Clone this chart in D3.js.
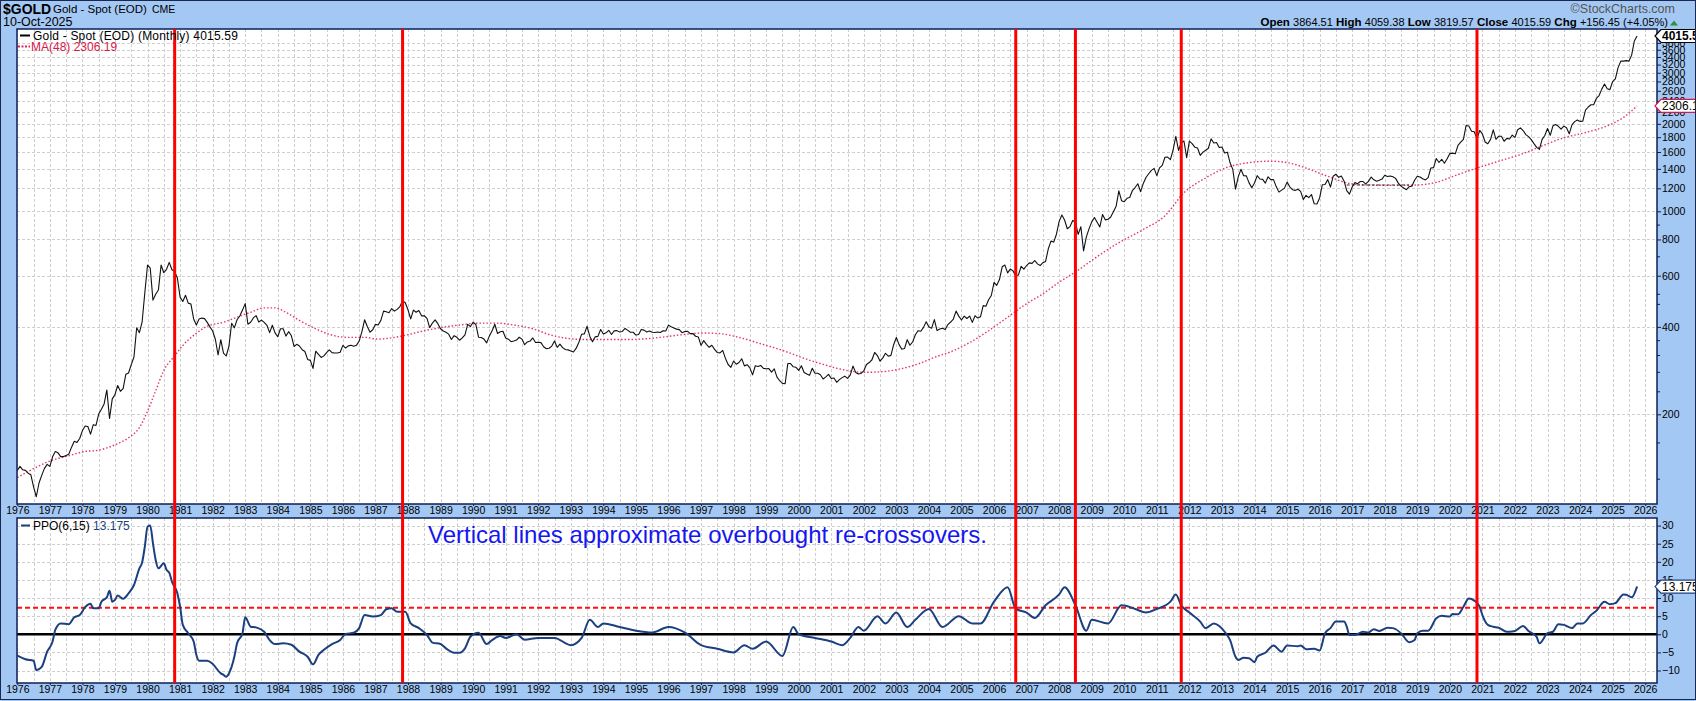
<!DOCTYPE html>
<html>
<head>
<meta charset="utf-8">
<script src="https://cdnjs.cloudflare.com/ajax/libs/d3/7.8.5/d3.min.js"></script>
<style>
body { margin: 0; background: #ffffff; }
svg text { font-family: "Liberation Sans", Arial, sans-serif; }
.grid line { stroke: #cfcfcf; stroke-width: 1; stroke-dasharray: 3,2; }
.axis path, .axis line { stroke: #0d1f55; }
.axis text { fill: #000; font-size: 10.5px; }
</style>
</head>
<body>
<div id="chart"></div>
<script>
// monthly closes, Jan 1976 .. Oct 2025
var goldStart = 1976;
var goldClose = [
  128.2, 132.3, 128.8, 128.2, 125.4, 123.8, 112.5, 104.0, 116.0, 123.2, 130.3, 134.5, // 1976
  132.3, 142.8, 148.9, 147.3, 143.0, 143.0, 144.1, 146.0, 154.1, 161.5, 160.0, 165.0, // 1977
  175.8, 182.3, 181.6, 170.9, 184.2, 183.1, 200.3, 208.1, 217.1, 242.6, 193.4, 226.0, // 1978
  233.7, 251.3, 240.1, 245.3, 274.6, 277.5, 296.5, 315.1, 397.3, 382.0, 415.7, 524.0, // 1979
  653.0, 637.0, 494.5, 518.0, 535.5, 653.5, 614.3, 631.3, 666.8, 629.0, 619.8, 589.5, // 1980
  506.5, 489.0, 513.8, 482.8, 479.3, 426.0, 406.0, 425.5, 428.8, 427.0, 414.5, 400.0, // 1981
  387.0, 362.6, 320.0, 361.3, 325.0, 317.5, 342.9, 411.5, 397.0, 423.3, 436.0, 456.9, // 1982
  481.0, 408.5, 414.8, 429.3, 437.5, 416.0, 422.0, 414.3, 405.0, 382.0, 405.0, 381.5, // 1983
  370.0, 394.0, 394.0, 371.8, 385.0, 373.5, 342.4, 348.3, 343.8, 333.5, 329.0, 309.0, // 1984
  306.7, 287.8, 329.8, 321.4, 314.0, 317.8, 326.3, 333.3, 326.0, 325.1, 325.3, 327.0, // 1985
  345.5, 338.2, 344.0, 345.8, 343.2, 345.5, 357.5, 384.7, 423.2, 401.0, 383.5, 391.0, // 1986
  408.0, 405.9, 421.1, 453.3, 451.0, 447.3, 462.5, 453.4, 459.5, 469.5, 492.5, 484.1, // 1987
  458.0, 426.2, 457.0, 449.0, 455.5, 436.6, 436.8, 427.8, 397.7, 412.4, 422.6, 410.2, // 1988
  394.0, 387.0, 383.2, 377.6, 361.8, 373.0, 368.3, 359.8, 366.5, 375.3, 408.2, 401.0, // 1989
  415.1, 407.7, 368.5, 367.8, 363.1, 352.2, 372.3, 387.8, 408.4, 379.5, 384.9, 386.2, // 1990
  366.0, 362.7, 355.7, 357.8, 360.4, 368.4, 363.0, 347.4, 354.9, 357.5, 366.3, 353.2, // 1991
  354.1, 353.1, 341.7, 336.4, 337.5, 343.4, 357.8, 340.0, 349.0, 339.3, 334.2, 333.3, // 1992
  330.5, 327.6, 337.8, 354.3, 377.5, 378.5, 401.8, 371.6, 355.5, 369.6, 370.9, 391.8, // 1993
  377.9, 381.6, 389.2, 376.5, 387.6, 388.3, 384.0, 385.8, 394.9, 389.1, 383.1, 383.3, // 1994
  374.9, 376.4, 392.0, 389.8, 384.3, 387.1, 383.4, 382.4, 384.0, 382.7, 387.8, 387.0, // 1995
  405.6, 400.7, 396.4, 392.9, 391.3, 382.0, 385.3, 386.5, 379.0, 379.5, 371.3, 369.3, // 1996
  345.5, 358.6, 348.2, 340.2, 345.6, 334.6, 326.4, 325.4, 332.1, 311.4, 296.8, 290.2, // 1997
  304.9, 297.4, 301.5, 310.7, 293.6, 296.3, 288.9, 273.4, 293.9, 292.3, 294.7, 287.8, // 1998
  287.1, 287.3, 279.5, 286.6, 268.6, 261.0, 255.6, 254.8, 299.0, 299.1, 291.4, 290.3, // 1999
  283.3, 293.7, 278.4, 275.1, 272.3, 288.2, 276.8, 277.0, 273.7, 264.5, 269.1, 274.5, // 2000
  265.6, 266.7, 257.7, 263.2, 267.5, 270.6, 265.9, 273.0, 293.1, 278.8, 275.5, 276.5, // 2001
  282.3, 296.9, 301.4, 308.2, 326.6, 318.5, 304.7, 312.8, 324.5, 316.9, 319.1, 347.2, // 2002
  367.5, 347.5, 334.9, 336.8, 361.4, 346.0, 354.8, 375.6, 388.0, 386.3, 398.4, 416.3, // 2003
  399.8, 395.9, 423.7, 388.5, 393.3, 395.8, 391.4, 407.3, 415.7, 425.6, 453.4, 435.6, // 2004
  422.2, 435.5, 427.5, 435.7, 414.5, 437.1, 429.0, 433.3, 473.3, 470.8, 495.7, 513.0, // 2005
  568.8, 556.0, 582.0, 644.0, 653.0, 613.5, 632.5, 623.5, 599.3, 603.8, 646.7, 632.0, // 2006
  650.5, 664.2, 661.8, 677.0, 659.1, 650.5, 665.5, 672.0, 743.0, 789.5, 783.5, 833.8, // 2007
  923.3, 971.5, 933.5, 871.0, 885.8, 930.3, 918.0, 833.0, 884.5, 730.8, 814.5, 869.8, // 2008
  919.5, 952.0, 916.5, 883.3, 975.5, 934.5, 939.0, 955.5, 995.8, 1040.0, 1175.8, 1087.5, // 2009
  1078.5, 1108.3, 1115.5, 1179.3, 1207.5, 1244.0, 1169.0, 1246.0, 1307.0, 1346.8, 1383.5, 1405.5, // 2010
  1327.0, 1411.0, 1439.0, 1535.5, 1536.5, 1505.5, 1628.5, 1813.5, 1620.0, 1722.0, 1746.0, 1531.0, // 2011
  1744.0, 1711.0, 1662.5, 1651.3, 1558.0, 1598.5, 1622.0, 1648.5, 1776.0, 1719.0, 1726.0, 1657.5, // 2012
  1664.8, 1588.5, 1598.3, 1469.0, 1394.5, 1192.0, 1314.5, 1394.8, 1326.5, 1324.0, 1253.0, 1204.5, // 2013
  1251.0, 1326.5, 1291.8, 1288.5, 1250.5, 1315.0, 1285.3, 1285.8, 1216.5, 1164.3, 1182.8, 1199.3, // 2014
  1260.3, 1214.0, 1187.0, 1180.3, 1190.8, 1171.0, 1098.4, 1135.0, 1114.0, 1142.4, 1061.9, 1060.0, // 2015
  1111.8, 1234.9, 1237.0, 1285.7, 1212.1, 1320.8, 1342.0, 1309.3, 1322.5, 1272.0, 1178.1, 1145.9, // 2016
  1212.8, 1255.6, 1245.3, 1266.5, 1266.2, 1242.3, 1267.6, 1311.8, 1283.1, 1270.2, 1280.2, 1291.0, // 2017
  1331.3, 1317.9, 1323.9, 1315.1, 1298.3, 1250.5, 1220.6, 1202.5, 1187.3, 1215.0, 1220.7, 1279.0, // 2018
  1321.0, 1313.3, 1295.4, 1282.3, 1305.6, 1409.6, 1413.7, 1520.3, 1472.4, 1511.0, 1463.3, 1517.0, // 2019
  1582.9, 1585.7, 1577.2, 1686.5, 1730.3, 1768.1, 1975.9, 1967.6, 1886.9, 1879.9, 1776.5, 1898.4, // 2020
  1847.7, 1733.0, 1707.7, 1769.1, 1906.9, 1770.1, 1814.2, 1813.6, 1742.8, 1783.0, 1774.5, 1829.2, // 2021
  1796.5, 1908.8, 1937.4, 1896.9, 1837.6, 1807.3, 1765.9, 1711.0, 1660.6, 1633.6, 1768.5, 1824.0, // 2022
  1928.4, 1826.9, 1969.3, 1990.0, 1962.7, 1919.4, 1965.1, 1940.2, 1848.6, 1983.9, 2036.4, 2062.6, // 2023
  2039.5, 2044.2, 2229.9, 2286.3, 2327.3, 2326.8, 2447.6, 2503.4, 2634.6, 2744.0, 2643.2, 2624.5, // 2024
  2798.4, 2857.8, 3123.6, 3288.7, 3289.3, 3303.1, 3289.9, 3447.9, 3858.9, 4015.59              // 2025
];

// MA(48) (month index from Jan 1976, value)
var maMonth = [0, 4, 12, 19, 25, 29, 36, 41, 45, 48, 51, 54, 58, 61, 65, 70, 76, 81, 86, 91, 95, 99, 104, 110, 115, 122, 128, 133, 139, 144, 150, 157, 164, 170, 177, 183, 190, 197, 203, 208, 216, 226, 237, 245, 253, 259, 266, 274, 282, 289, 297, 305, 312, 318, 325, 332, 338, 345, 351, 358, 365, 371, 378, 384, 391, 397, 405, 415, 423, 430, 438, 446, 454, 462, 469, 475, 483, 491, 499, 507, 515, 523, 531, 538, 546, 554, 562, 570, 578, 586, 592, 597];
var maValue = [121, 127, 138, 144, 149, 150, 157, 166, 180, 205, 241, 283, 318, 345, 374, 402, 415, 432, 449, 465, 465, 449, 421, 394, 377, 368, 368, 363, 368, 376, 388, 399, 407, 412, 412, 406, 394, 374, 365, 362, 362, 362, 368, 376, 381, 379, 368, 350, 332, 314, 297, 284, 279, 280, 286, 298, 314, 331, 353, 388, 432, 474, 520, 570, 627, 688, 770, 866, 965, 1159, 1303, 1418, 1471, 1488, 1465, 1409, 1320, 1248, 1231, 1228, 1231, 1258, 1338, 1409, 1488, 1568, 1679, 1791, 1867, 1970, 2105, 2306.19];

// PPO(6,15)
var ppoMonth = [0, 3, 6, 7, 9, 11, 13, 14, 16, 19, 21, 23, 25, 27, 28, 30, 31, 33, 34, 35, 36, 37, 39, 41, 43, 45, 46, 47, 48, 49, 50, 51, 52, 54, 55, 56, 57, 59, 60, 61, 63, 65, 66, 67, 70, 72, 75, 76, 77, 78, 80, 81, 83, 84, 86, 88, 91, 93, 95, 98, 101, 104, 107, 109, 111, 113, 116, 119, 121, 124, 126, 128, 131, 134, 136, 138, 140, 143, 145, 148, 151, 153, 156, 158, 161, 163, 165, 167, 170, 173, 175, 178,
  180, 184, 187, 192, 198, 204, 208, 211, 214, 216, 222, 228, 234, 240, 246, 252, 258, 264, 268, 271, 276, 282, 286, 288, 294, 300, 304, 307, 310, 312, 317, 320, 324, 328, 331, 336, 341, 347, 352, 355, 360, 365, 368, 372, 375, 379, 384, 386, 390, 394, 396, 402, 407, 412, 416, 420, 425, 427, 429, 432,
  436, 438, 441, 443, 445, 447, 449, 450, 452, 454, 456, 457, 460, 463, 466, 468, 472, 473, 475, 478, 480, 482, 484, 486, 489, 490, 491, 493, 496, 498, 500, 502, 505, 507, 510, 513, 515, 516, 518, 520, 523, 525, 528, 529, 531, 533, 535, 537, 539, 540, 542, 544, 546, 549, 550, 552, 555, 557, 560, 561, 564, 566, 568, 570, 573, 575, 577, 580, 582, 585, 587, 589, 592, 593, 595, 597];
var ppoValue = [-5.9, -6.9, -7.3, -9.9, -9.0, -4.8, -2.0, 1.2, 3.0, 2.8, 4.7, 5.3, 7.5, 8.4, 7.2, 7.2, 9.0, 10.2, 12.0, 9.0, 9.5, 10.7, 9.8, 11.3, 13.6, 18.2, 19.8, 24.2, 29.7, 30.0, 25.1, 20.5, 18.2, 19.6, 17.8, 17.0, 14.5, 11.3, 7.6, 2.6, 0.3, -2.0, -5.7, -7.3, -7.3, -8.2, -10.8, -11.2, -11.7, -10.8, -6.2, -2.5, 0.3, 4.7, 2.1, 1.9, 0.7, -1.6, -2.7, -2.5, -2.9, -4.8, -6.2, -8.3, -5.7, -4.3, -2.7, -1.6, 0.1, 0.4, 1.7, 5.3, 4.9, 5.3, 6.9, 7.2, 6.2, 6.2, 3.0, 1.7, -0.2, -2.3, -2.7, -3.9, -5.1, -5.1, -3.9, -0.7, 0.4, -2.7, -1.6, -0.5,
  -1.0, 0.0, -1.5, -1.0, -1.0, -3.0, -1.0, 4.0, 2.0, 3.0, 2.0, 1.0, 0.5, 2.0, 0.5, -3.0, -4.0, -5.0, -3.0, -4.0, -2.0, -6.0, 2.0, 0.0, -1.0, -2.0, -3.0, -1.0, 2.0, 1.0, 5.0, 3.0, 6.0, 2.0, 4.0, 7.0, 2.0, 5.0, 3.0, 3.0, 9.0, 13.0, 7.0, 6.0, 4.5, 8.0, 11.0, 13.0, 8.0, 1.0, 4.0, 3.0, 8.0, 7.0, 6.0, 7.0, 9.0, 11.0, 8.0, 6.0,
  3.5, 1.7, 3.0, 2.3, 0.7, -1.6, -6.2, -7.1, -6.5, -6.6, -7.7, -6.2, -5.1, -3.1, -4.8, -3.1, -3.3, -3.1, -4.1, -4.0, -4.5, 0.3, 1.7, 3.5, 3.5, 2.1, -0.2, -0.2, 0.7, 0.5, 1.4, 0.9, 1.8, 1.7, 0.3, -2.2, -1.6, 0.3, 1.0, 1.0, 4.4, 5.1, 4.9, 5.6, 5.5, 7.6, 9.9, 9.3, 7.6, 5.3, 2.6, 2.1, 1.8, 0.7, 0.7, 0.9, 2.3, 0.9, -0.7, -2.5, 0.3, 0.7, 2.8, 2.6, 1.7, 3.0, 3.0, 5.3, 6.5, 9.0, 8.3, 8.6, 11.0, 10.9, 10.2, 13.175];

var overbought = 7.3;
// months (from Jan 1976) of the vertical signal lines
var signalMonths = [58, 142, 368, 390, 429, 538];
// dark dashed base line drawn under the 2017-2018 range
var baseLineMonths = [490, 513];
var baseLineValue = 1232;

var priceTicks = [200, 400, 600, 800, 1000, 1200, 1400, 1600, 1800, 2000, 2200, 2400, 2600, 2800, 3000, 3200, 3400, 3600, 3800];
var priceMinorTicks = [120, 160, 240, 280, 320, 360, 480, 520, 700, 900];
var ppoTicks = [-10, -5, 0, 5, 10, 15, 20, 25, 30];
var years = d3.range(1976, 2027);

var W = 1696, H = 701;
var box = { left: 17, right: 1657, top: 29, priceBottom: 504, ppoTop: 518, ppoBottom: 683 };

var svg = d3.select("#chart").append("svg")
    .attr("width", W)
    .attr("height", H);

svg.append("rect").attr("width", W).attr("height", H).attr("fill", "#a4c8f4");

var x = d3.scaleLinear().domain([0, 604.35]).range([17.3, box.right]);
var yPrice = d3.scaleLog().domain([98.2, 4244]).range([box.priceBottom, box.top]);
var yPpo = d3.scaleLinear().domain([-13.45, 32.1]).range([box.ppoBottom, box.ppoTop]);

var defs = svg.append("defs");
defs.append("clipPath").attr("id", "clipPrice").append("rect")
    .attr("x", box.left).attr("y", box.top)
    .attr("width", box.right - box.left).attr("height", box.priceBottom - box.top);
defs.append("clipPath").attr("id", "clipPpo").append("rect")
    .attr("x", box.left).attr("y", box.ppoTop)
    .attr("width", box.right - box.left).attr("height", box.ppoBottom - box.ppoTop);

// plot backgrounds
svg.append("rect").attr("x", box.left).attr("y", box.top)
    .attr("width", box.right - box.left).attr("height", box.priceBottom - box.top).attr("fill", "#fff");
svg.append("rect").attr("x", box.left).attr("y", box.ppoTop)
    .attr("width", box.right - box.left).attr("height", box.ppoBottom - box.ppoTop).attr("fill", "#fff");

// grid
var halfYears = d3.range(0, 606, 6);
var gPriceGrid = svg.append("g").attr("class", "grid").attr("clip-path", "url(#clipPrice)");
gPriceGrid.selectAll("line.v").data(halfYears).enter().append("line")
    .attr("x1", function(d) { return Math.round(x(d)) + 0.5; })
    .attr("x2", function(d) { return Math.round(x(d)) + 0.5; })
    .attr("y1", box.top).attr("y2", box.priceBottom);
gPriceGrid.selectAll("line.h").data(priceTicks).enter().append("line")
    .attr("x1", box.left).attr("x2", box.right)
    .attr("y1", function(d) { return Math.round(yPrice(d)) + 0.5; })
    .attr("y2", function(d) { return Math.round(yPrice(d)) + 0.5; });

var gPpoGrid = svg.append("g").attr("class", "grid").attr("clip-path", "url(#clipPpo)");
gPpoGrid.selectAll("line.v").data(halfYears).enter().append("line")
    .attr("x1", function(d) { return Math.round(x(d)) + 0.5; })
    .attr("x2", function(d) { return Math.round(x(d)) + 0.5; })
    .attr("y1", box.ppoTop).attr("y2", box.ppoBottom);
gPpoGrid.selectAll("line.h").data(ppoTicks).enter().append("line")
    .attr("x1", box.left).attr("x2", box.right)
    .attr("y1", function(d) { return Math.round(yPpo(d)) + 0.5; })
    .attr("y2", function(d) { return Math.round(yPpo(d)) + 0.5; });

// price + MA
var priceLine = d3.line()
    .x(function(d, i) { return x(i); })
    .y(function(d) { return yPrice(d); });
var maLine = d3.line()
    .x(function(d) { return x(d[0]); })
    .y(function(d) { return yPrice(d[1]); })
    .curve(d3.curveMonotoneX);

var gPrice = svg.append("g").attr("clip-path", "url(#clipPrice)");
gPrice.append("path")
    .attr("d", maLine(maMonth.map(function(m, i) { return [m, maValue[i]]; })))
    .attr("fill", "none")
    .attr("stroke", "#e43763")
    .attr("stroke-width", 1.4)
    .attr("stroke-dasharray", "1.5,2");
gPrice.append("line")
    .attr("x1", x(baseLineMonths[0])).attr("x2", x(baseLineMonths[1]))
    .attr("y1", yPrice(baseLineValue)).attr("y2", yPrice(baseLineValue))
    .attr("stroke", "#333").attr("stroke-width", 1).attr("stroke-dasharray", "3,2");
gPrice.append("path")
    .attr("d", priceLine(goldClose))
    .attr("fill", "none")
    .attr("stroke", "#111")
    .attr("stroke-width", 1.1)
    .attr("stroke-linejoin", "round");

// PPO panel
var gPpo = svg.append("g").attr("clip-path", "url(#clipPpo)");
gPpo.append("line")
    .attr("x1", box.left).attr("x2", box.right)
    .attr("y1", yPpo(overbought)).attr("y2", yPpo(overbought))
    .attr("stroke", "#ff1010").attr("stroke-width", 2).attr("stroke-dasharray", "5,3");
gPpo.append("line")
    .attr("x1", box.left).attr("x2", box.right)
    .attr("y1", yPpo(0)).attr("y2", yPpo(0))
    .attr("stroke", "#000").attr("stroke-width", 2.5);
var ppoLine = d3.line()
    .x(function(d) { return x(d[0]); })
    .y(function(d) { return yPpo(d[1]); })
    .curve(d3.curveMonotoneX);
gPpo.append("path")
    .attr("d", ppoLine(ppoMonth.map(function(m, i) { return [m, ppoValue[i]]; })))
    .attr("fill", "none")
    .attr("stroke", "#1c3f80")
    .attr("stroke-width", 2);

// right axes
var priceAxis = d3.axisRight(yPrice).tickValues(priceTicks).tickSize(4).tickPadding(1)
    .tickFormat(function(d) { return d; });
svg.append("g").attr("class", "axis")
    .attr("transform", "translate(" + box.right + ",0)")
    .call(priceAxis)
    .call(function(g) { g.select(".domain").remove(); });
svg.append("g").attr("class", "axis")
    .attr("transform", "translate(" + box.right + ",0)")
    .call(d3.axisRight(yPrice).tickValues(priceMinorTicks).tickSize(3).tickFormat(""))
    .call(function(g) { g.select(".domain").remove(); });
var ppoAxis = d3.axisRight(yPpo).tickValues(ppoTicks).tickSize(4).tickPadding(1);
svg.append("g").attr("class", "axis")
    .attr("transform", "translate(" + box.right + ",0)")
    .call(ppoAxis)
    .call(function(g) { g.select(".domain").remove(); });

// year axes (between the panels and at the bottom)
var yearAxis = d3.axisBottom(x)
    .tickValues(years.map(function(y) { return (y - goldStart) * 12; }))
    .tickFormat(function(d) { return goldStart + d / 12; })
    .tickSize(2).tickPadding(1);
[box.priceBottom, box.ppoBottom].forEach(function(yy) {
    svg.append("g").attr("class", "axis")
        .attr("transform", "translate(0," + yy + ")")
        .call(yearAxis)
        .call(function(g) { g.select(".domain").remove(); });
});

// panel frames
[[box.top, box.priceBottom], [box.ppoTop, box.ppoBottom]].forEach(function(p) {
    svg.append("rect")
        .attr("x", box.left).attr("y", p[0])
        .attr("width", box.right - box.left).attr("height", p[1] - p[0])
        .attr("fill", "none").attr("stroke", "#0d1f55").attr("stroke-width", 1.5);
});

// signal lines across both panels
svg.append("g").selectAll("line").data(signalMonths).enter().append("line")
    .attr("x1", function(d) { return x(d); })
    .attr("x2", function(d) { return x(d); })
    .attr("y1", box.top).attr("y2", box.ppoBottom)
    .attr("stroke", "#ff0000").attr("stroke-width", 3);

// header
svg.append("text").attr("x", 3).attr("y", 14).attr("font-size", 14).attr("font-weight", "bold").text("$GOLD");
svg.append("text").attr("x", 53).attr("y", 12.5).attr("font-size", 11.5).text("Gold - Spot (EOD)");
svg.append("text").attr("x", 152).attr("y", 12.5).attr("font-size", 10.5).text("CME");
svg.append("text").attr("x", 3).attr("y", 26).attr("font-size", 12.5).text("10-Oct-2025");
svg.append("text").attr("x", 1675).attr("y", 13).attr("font-size", 12.5).attr("fill", "#555")
    .attr("text-anchor", "end").text("\u00a9StockCharts.com");

var ohlc = [["Open", "3864.51"], ["High", "4059.38"], ["Low", "3819.57"], ["Close", "4015.59"], ["Chg", "+156.45 (+4.05%)"]];
var ohlcText = svg.append("text").attr("x", 1668).attr("y", 26).attr("font-size", 11).attr("text-anchor", "end");
ohlc.forEach(function(d, i) {
    ohlcText.append("tspan").attr("font-weight", "bold").attr("font-size", 11.5).text((i ? "  " : "") + d[0] + " ");
    ohlcText.append("tspan").text(d[1]);
});
svg.append("path").attr("d", "M1670,25.5 L1678,25.5 L1674,20.5 Z").attr("fill", "#2f8f3f");

// legends
svg.append("line").attr("x1", 20).attr("x2", 30).attr("y1", 35.5).attr("y2", 35.5).attr("stroke", "#000").attr("stroke-width", 2);
svg.append("text").attr("x", 33).attr("y", 39.5).attr("font-size", 12).attr("letter-spacing", 0.2)
    .text("Gold - Spot (EOD) (Monthly) 4015.59");
svg.append("line").attr("x1", 18).attr("x2", 30).attr("y1", 46.5).attr("y2", 46.5).attr("stroke", "#e0245a").attr("stroke-width", 2).attr("stroke-dasharray", "2,1.5");
svg.append("text").attr("x", 31).attr("y", 50.5).attr("font-size", 12).attr("fill", "#d6184a").text("MA(48) 2306.19");

svg.append("line").attr("x1", 21).attr("x2", 30).attr("y1", 525.5).attr("y2", 525.5).attr("stroke", "#1c3f80").attr("stroke-width", 2);
var ppoLegend = svg.append("text").attr("x", 33).attr("y", 529.5).attr("font-size", 12);
ppoLegend.append("tspan").text("PPO(6,15) ");
ppoLegend.append("tspan").attr("fill", "#1c3f80").text("13.175");

svg.append("text").attr("x", 428).attr("y", 543).attr("font-size", 24).attr("fill", "#1616f0")
    .text("Vertical lines approximate overbought re-crossovers.");

// last-value tags on the right axis
function tag(yv, label, color, bold) {
    var g = svg.append("g");
    g.append("path")
        .attr("d", "M1655," + yv + " L1661," + (yv - 6.5) + " L1700," + (yv - 6.5) + " L1700," + (yv + 6.5) + " L1661," + (yv + 6.5) + " Z")
        .attr("fill", "#fff").attr("stroke", color).attr("stroke-width", 1.2);
    g.append("text").attr("x", 1662).attr("y", yv + 4.5).attr("font-size", 12)
        .attr("font-weight", bold ? "bold" : "normal").text(label);
}
tag(yPrice(goldClose[goldClose.length - 1]), "4015.59", "#000", true);
tag(yPrice(maValue[maValue.length - 1]), "2306.19", "#d6184a", false);
tag(yPpo(ppoValue[ppoValue.length - 1]), "13.175", "#1c3f80", false);

// outer frame
svg.append("rect").attr("x", 0.5).attr("y", 0.5).attr("width", W - 1).attr("height", 699)
    .attr("fill", "none").attr("stroke", "#1a2850").attr("stroke-width", 1);
</script>
</body>
</html>
